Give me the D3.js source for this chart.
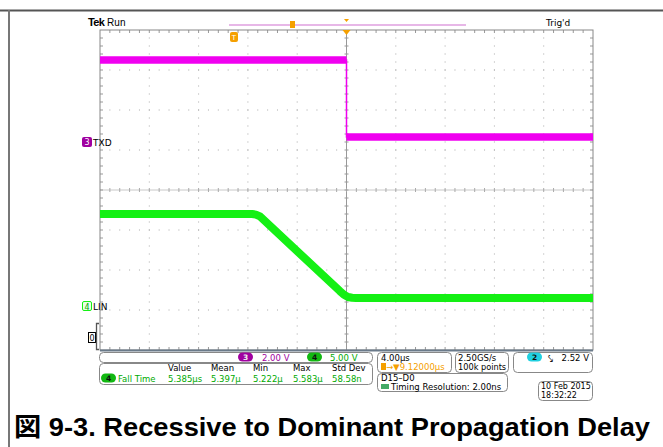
<!DOCTYPE html>
<html><head><meta charset="utf-8">
<script src="https://cdn.jsdelivr.net/npm/d3@7"></script>
<style>body{margin:0;background:#fff}svg{display:block}</style>
</head><body><svg id="c" width="663" height="447"></svg>
<script>
// ---- data (time in µs relative to trigger, voltage in V) ----
const txdTime  = [-20, 0, 0, 20];
const txdVolts = [4.1, 4.1, 0.25, 0.25];
const linTime  = [-20, -7.66, -7.35, -7.02, -0.53, -0.2, 0.12, 0.45, 0.77, 20];
const linVolts = [11.5, 11.5, 11.42, 11.2, 1.85, 1.4, 1.13, 1.03, 1.0, 1.0];
const channelNames = ["TXD", "LIN"];
const voltsPerDiv = [2.0, 5.0];
const measHeaders = ["Value", "Mean", "Min", "Max", "Std Dev"];
const measValues = ["5.385µs", "5.397µ", "5.222µ", "5.583µ", "58.58n"];
const measName = "Fall Time";
const timePerDiv = "4.00µs";
const trigDelay = "→▼9.12000µs";
const sampleRate = ["2.50GS/s", "100k points"];
const trigLevel = "2.52 V";
const digitalInfo = ["D15–D0", "Timing Resolution: 2.00ns"];
const dateStamp = ["10 Feb  2015", "18:32:22"];
const titleText = "図 9-3. Recessive to Dominant Propagation Delay";

const MAG = "#f000f0", GRN = "#14f014", ORG = "#f5a000", CYN = "#20d0e0", PUR = "#a000a0";
const svg = d3.select("#c");
const FONT = "'DejaVu Sans', sans-serif";

// page frame lines
svg.append("line").attr("x1",0).attr("x2",663).attr("y1",10.5).attr("y2",10.5).attr("stroke","#555").attr("stroke-width",2);
svg.append("line").attr("x1",9).attr("x2",9).attr("y1",10).attr("y2",447).attr("stroke","#777").attr("stroke-width",2);

// scales
const L = 100, R = 593, T = 30, B = 350;
const x = d3.scaleLinear().domain([-20, 20]).range([L, R]);
const yDiv = d3.scaleLinear().domain([4, -4]).range([T, B]);
const xDivPx = (R - L) / 10, yDivPx = (B - T) / 8;
const offsets = [1.2, -2.9]; // channel ground positions (divisions)
const yCh = i => v => yDiv(offsets[i] + v / voltsPerDiv[i]);

const g = svg.append("g");
// grid dots
for (let i = 1; i < 10; i++) {
  if (i === 5) continue;
  const xx = L + i * xDivPx;
  for (let j = 1; j < 40; j++) {
    g.append("rect").attr("x", xx - 0.5).attr("y", T + j * yDivPx / 5 - 0.5).attr("width",1).attr("height",1).attr("fill","#aaa");
  }
}
for (let j = 1; j < 8; j++) {
  if (j === 4) continue;
  const yy = T + j * yDivPx;
  for (let i = 1; i < 50; i++) {
    g.append("rect").attr("x", L + i * xDivPx / 5 - 0.5).attr("y", yy - 0.5).attr("width",1).attr("height",1).attr("fill","#aaa");
  }
}
// center lines
const cx = L + 5 * xDivPx, cy = T + 4 * yDivPx;
g.append("line").attr("x1",L).attr("x2",R).attr("y1",cy).attr("y2",cy).attr("stroke","#c8c8c8");
g.append("line").attr("x1",cx).attr("x2",cx).attr("y1",T).attr("y2",B).attr("stroke","#999");
for (let i = 1; i < 50; i++) {
  const xx = L + i * xDivPx / 5;
  g.append("line").attr("x1",xx).attr("x2",xx).attr("y1",cy-2).attr("y2",cy+2).attr("stroke","#aaa");
  g.append("line").attr("x1",xx).attr("x2",xx).attr("y1",T).attr("y2",T+3).attr("stroke","#999");
  g.append("line").attr("x1",xx).attr("x2",xx).attr("y1",B-3).attr("y2",B).attr("stroke","#999");
}
for (let j = 1; j < 40; j++) {
  const yy = T + j * yDivPx / 5;
  g.append("line").attr("x1",cx-2).attr("x2",cx+2).attr("y1",yy).attr("y2",yy).attr("stroke","#999");
  g.append("line").attr("x1",L).attr("x2",L+3).attr("y1",yy).attr("y2",yy).attr("stroke","#999");
  g.append("line").attr("x1",R-3).attr("x2",R).attr("y1",yy).attr("y2",yy).attr("stroke","#999");
}
g.append("rect").attr("x",L).attr("y",T).attr("width",R-L).attr("height",B-T).attr("fill","none").attr("stroke","#888");
g.append("line").attr("x1",L).attr("x2",R).attr("y1",B+0.5).attr("y2",B+0.5).attr("stroke","#6a7a8a").attr("stroke-width",2);

// traces
const txd = txdTime.map((t, i) => [t, txdVolts[i]]);
const lin = linTime.map((t, i) => [t, linVolts[i]]);
const yT = yCh(0), yL = yCh(1);
const lineT = d3.line().x(d => x(d[0])).y(d => yT(d[1]));
svg.append("path").attr("d", lineT(txd)).attr("fill","none").attr("stroke",MAG).attr("stroke-width",1.5);
[txd.slice(0,2), txd.slice(2)].forEach(seg => {
  svg.append("path").attr("d", lineT(seg)).attr("fill","none").attr("stroke",MAG).attr("stroke-width",7.5);
});
const lineL = d3.line().x(d => x(d[0])).y(d => yL(d[1]));
svg.append("path").attr("d", lineL(lin)).attr("fill","none").attr("stroke",GRN).attr("stroke-width",8)
  .attr("stroke-linejoin","round");

// top texts
svg.append("text").attr("x",88).attr("y",26).attr("font-family","'Liberation Sans',sans-serif").attr("font-size",10)
  .html('<tspan font-weight="bold" font-size="11" letter-spacing="-0.6">Tek</tspan> Run');
svg.append("text").attr("x",546).attr("y",26).attr("font-family",FONT).attr("font-size",9).text("Trig'd");
svg.append("line").attr("x1",229).attr("x2",466).attr("y1",25).attr("y2",25).attr("stroke","#d070d0").attr("stroke-width",1.2);
svg.append("rect").attr("x",290).attr("y",21).attr("width",5).attr("height",7).attr("fill",ORG);
svg.append("path").attr("d",`M${cx-2.5},19 L${cx+2.5},19 L${cx},22 Z`).attr("fill",ORG);
svg.append("path").attr("d",`M${cx-4},30 L${cx+4},30 L${cx},35 Z`).attr("fill",ORG);
svg.append("rect").attr("x",230).attr("y",32).attr("width",8).attr("height",10).attr("rx",2).attr("fill",ORG);
svg.append("text").attr("x",234).attr("y",40).attr("text-anchor","middle").attr("font-family",FONT).attr("font-size",7).attr("fill","#fff").text("T");

// channel markers
svg.append("rect").attr("x",82).attr("y",137).attr("width",10).attr("height",10).attr("rx",2).attr("fill",PUR);
svg.append("text").attr("x",87).attr("y",145).attr("text-anchor","middle").attr("font-family",FONT).attr("font-size",8).attr("fill","#fff").text("3");
svg.append("text").attr("x",93).attr("y",146).attr("font-family",FONT).attr("font-size",9).text(channelNames[0]);
svg.append("rect").attr("x",82.5).attr("y",301.5).attr("width",9).attr("height",9).attr("rx",1.5).attr("fill","#e8ffe8").attr("stroke",GRN);
svg.append("text").attr("x",87).attr("y",309.5).attr("text-anchor","middle").attr("font-family",FONT).attr("font-size",8).attr("fill","#0a0").text("4");
svg.append("text").attr("x",93).attr("y",310).attr("font-family",FONT).attr("font-size",9).text(channelNames[1]);
svg.append("rect").attr("x",88.5).attr("y",332.5).attr("width",7).attr("height",10).attr("fill","#fff").attr("stroke","#000");
svg.append("text").attr("x",92).attr("y",341).attr("text-anchor","middle").attr("font-family",FONT).attr("font-size",8).text("0");
svg.append("path").attr("d","M99,323.5 L96.5,323.5 L96.5,349.5 L99,349.5").attr("fill","none").attr("stroke","#555").attr("stroke-width",1.3);

// info boxes
function box(x0, y0, w, h) {
  svg.append("rect").attr("x",x0+0.5).attr("y",y0+0.5).attr("width",w).attr("height",h).attr("rx",4).attr("fill","#fff").attr("stroke","#888");
}
function txt(x0, y0, s, col, anchor) {
  return svg.append("text").attr("x",x0).attr("y",y0).attr("font-family",FONT).attr("font-size",8.5)
    .attr("fill",col || "#000").attr("text-anchor",anchor || "start").text(s);
}
function pill(x0, y0, label, col, tcol) {
  svg.append("rect").attr("x",x0).attr("y",y0).attr("width",15).attr("height",9).attr("rx",4.5).attr("fill",col);
  txt(x0 + 7.5, y0 + 7.8, label, tcol || "#111", "middle").attr("font-size",7.5).attr("font-weight","bold");
}
box(99, 352, 273, 10);
pill(238, 352.5, "3", PUR, "#eee");
txt(262, 360.5, voltsPerDiv[0].toFixed(2) + " V", PUR);
pill(307, 352.5, "4", "#12b812", "#111");
txt(330, 360.5, voltsPerDiv[1].toFixed(2) + " V", "#0a0");
box(99, 363, 273, 21);
const colX = [168, 211, 253, 293, 332];
measHeaders.forEach((h, i) => txt(colX[i], 371, h));
pill(101, 373.5, "4", "#12b812", "#111");
txt(118, 382, measName, "#0a0");
measValues.forEach((v, i) => txt(colX[i], 382, v, "#0a0"));
box(377, 352, 74, 20);
txt(381, 360.5, timePerDiv);
svg.append("rect").attr("x",381).attr("y",363).attr("width",5).attr("height",7).attr("fill",ORG);
txt(386, 370, trigDelay, ORG);
box(455, 352, 53, 20);
txt(458, 360.5, sampleRate[0]);
txt(458, 370, sampleRate[1]).attr("font-size",8.2);
box(513, 352, 79, 20);
pill(527, 352.5, "2", CYN, "#111");
txt(548, 360.5, "⤥", "#000");
txt(589, 360.5, trigLevel, "#000", "end");
box(377, 373, 130, 18);
txt(381, 381, digitalInfo[0]);
svg.append("rect").attr("x",381).attr("y",384).attr("width",8).attr("height",5).attr("fill","#4a6");
txt(391, 390, digitalInfo[1]);
box(538, 381, 54, 19);
txt(541, 389, dateStamp[0]).attr("font-size",8);
txt(541, 398, dateStamp[1]).attr("font-size",8);

// title
svg.append("text").attr("x",14).attr("y",436).attr("font-family","'Liberation Sans','Noto Sans CJK JP',sans-serif")
  .attr("font-weight","bold").attr("font-size",26.5).attr("textLength",636).attr("lengthAdjust","spacingAndGlyphs")
  .text(titleText);
</script></body></html>
